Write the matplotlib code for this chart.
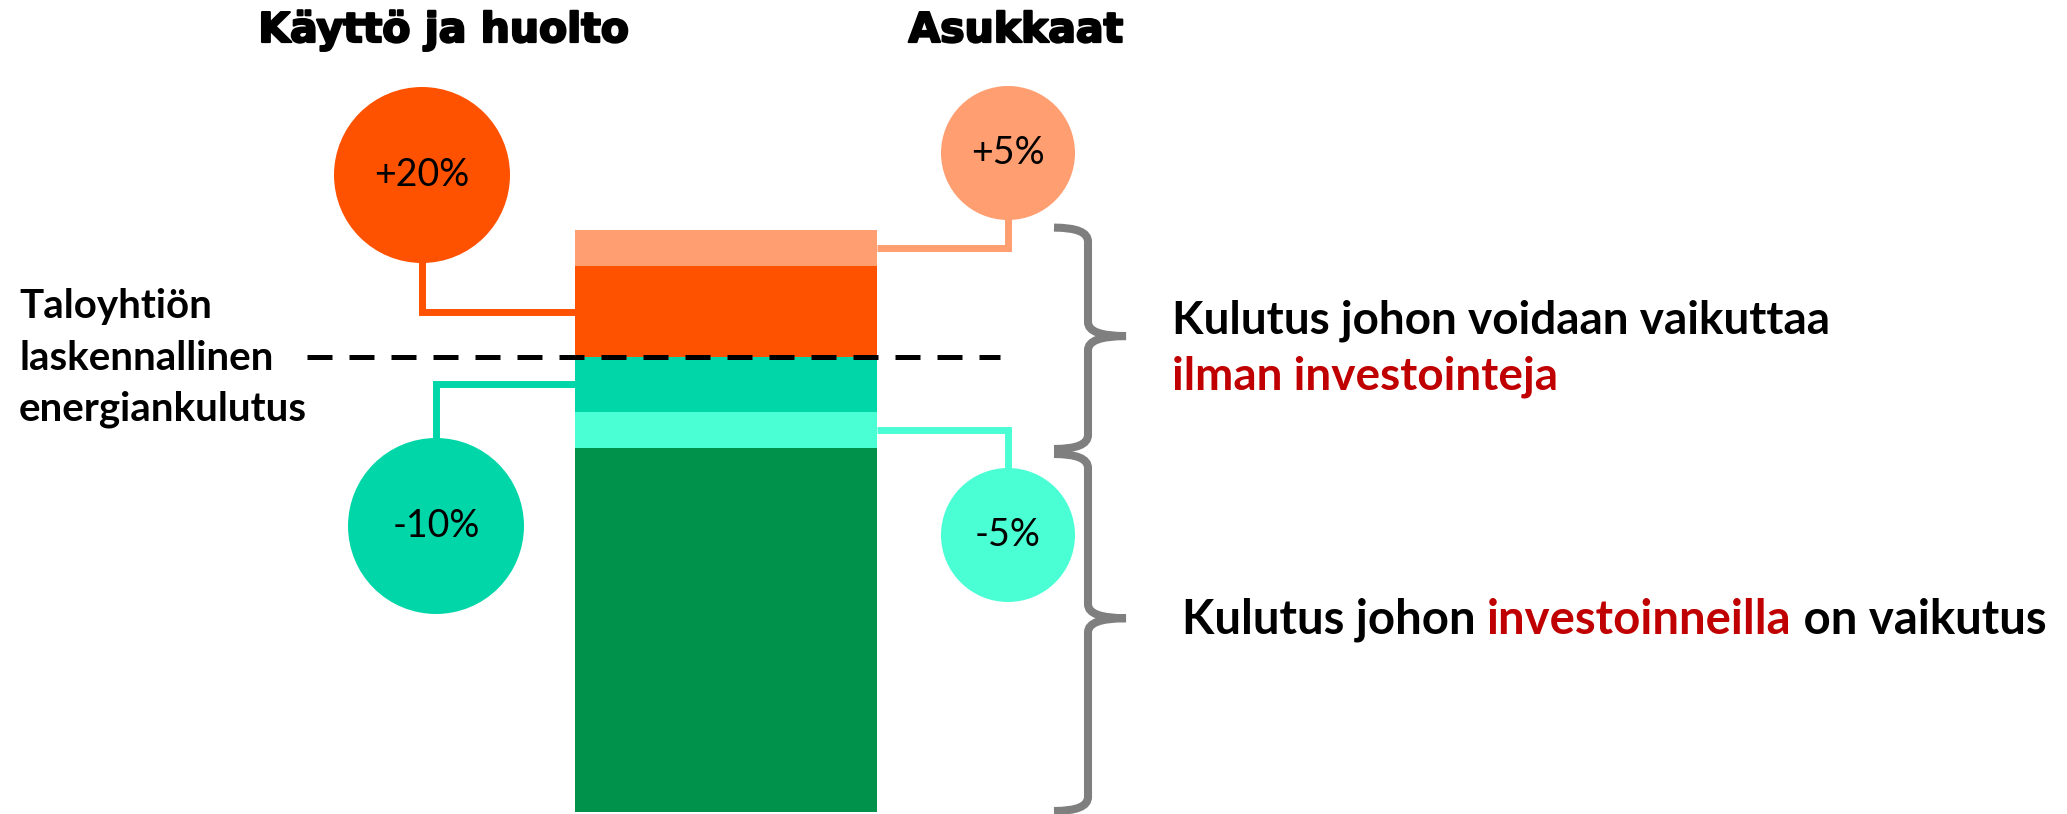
import matplotlib.pyplot as plt
import matplotlib.patheffects as pe
import numpy as np
from matplotlib.patches import Circle, PathPatch
from matplotlib.path import Path

W, H = 2067, 814

# bar segments, bottom to top (calculated consumption = 100)
seg_names = ["Muu kulutus", "Asukkaat -5%", "Käyttö ja huolto -10%",
             "Käyttö ja huolto +20%", "Asukkaat +5%"]
seg_values = [80, 8, 12, 20, 8]
seg_colors = ["#00924A", "#4BFFD4", "#00D6A8", "#FF5200", "#FF9E70"]
baseline = 100

# bubbles and the bar segment each one points to
bubble_labels = ["+20%", "+5%", "-10%", "-5%"]
bubble_colors = ["#FF5200", "#FF9E70", "#00D6A8", "#4BFFD4"]
bubble_segment = [3, 4, 2, 1]

titles = ["Käyttö ja huolto", "Asukkaat"]
left_label = ["Taloyhtiön", "laskennallinen", "energiankulutus"]
upper_text = ["Kulutus johon voidaan vaikuttaa", "ilman investointeja"]
lower_text = ["Kulutus johon ", "investoinneilla", " on vaikutus"]

RED = "#C00000"
GREY = "#7F7F7F"
BODY = "Lato"

# layout (pixels)
bar_x, bar_w = 726, 302
bubble_xy = [(422, 175), (1008, 153), (436, 526), (1008, 535)]
bubble_r = [88, 67, 88, 67]
bubble_side = ["left", "right", "left", "right"]
px_per_unit, bottom_px = 4.55, 2

fig = plt.figure(figsize=(W / 100, H / 100), dpi=100)
ax = fig.add_axes([0, 0, 1, 1])
ax.axis("off")
ax.set_xlim(0, W)
ax.set_ylim(-bottom_px / px_per_unit, (H - bottom_px) / px_per_unit)

lay = fig.add_axes([0, 0, 1, 1])
lay.axis("off")
lay.patch.set_alpha(0)
lay.set_xlim(0, W)
lay.set_ylim(H, 0)


def val_to_px(v):
    disp = ax.transData.transform((0, v))
    return lay.transData.inverted().transform(disp)[1]


# stacked bar
bottoms = np.concatenate([[0], np.cumsum(seg_values)[:-1]])
ax.bar([bar_x] * len(seg_values), seg_values, bottom=bottoms, width=bar_w,
       color=seg_colors, zorder=2)
ax.hlines(baseline, 307, 1000, colors="black", lw=3.6,
          linestyles=(0, (5, 3.4)), zorder=3)

# bubbles with connectors
mids = bottoms + np.array(seg_values) / 2
for lab, col, seg, (cx, cy), r, side in zip(bubble_labels, bubble_colors,
                                            bubble_segment, bubble_xy,
                                            bubble_r, bubble_side):
    y = val_to_px(mids[seg])
    xe = bar_x - bar_w / 2 if side == "left" else bar_x + bar_w / 2
    lay.plot([cx, cx, xe], [cy, y, y], color=col, lw=5,
             solid_joinstyle="miter", solid_capstyle="butt", zorder=2)
    lay.add_patch(Circle((cx, cy), r, color=col, lw=0, zorder=3))
    lay.text(cx, cy, lab, ha="center", va="center", fontsize=27,
             family=BODY, zorder=4)


# curly braces
def brace(top, bottom, tip_frac, x0=1054, xs=1088, xt=1126, c=14):
    mid = top + (bottom - top) * tip_frac
    verts = [(x0, top), (xs, top), (xs, top + c),
             (xs, mid - c), (xs, mid), (xt, mid),
             (xs, mid), (xs, mid + c),
             (xs, bottom - c), (xs, bottom), (x0, bottom)]
    codes = [Path.MOVETO, Path.CURVE3, Path.CURVE3,
             Path.LINETO, Path.CURVE3, Path.CURVE3,
             Path.CURVE3, Path.CURVE3,
             Path.LINETO, Path.CURVE3, Path.CURVE3]
    lay.add_patch(PathPatch(Path(verts, codes), fill=False, ec=GREY,
                            lw=5.8, capstyle="butt", joinstyle="miter"))


total = sum(seg_values)
brace(val_to_px(total) - 2, val_to_px(seg_values[0]) + 1, 0.49)
brace(val_to_px(seg_values[0]) + 6, val_to_px(0) - 1, 0.46)

# titles (heavy, like Arial Black)
heavy = [pe.withStroke(linewidth=1.6, foreground="black")]
for t, x in zip(titles, [444, 1016]):
    lay.text(x, 42, t, ha="center", va="baseline", fontsize=29.5,
             fontweight="bold", family="DejaVu Sans", path_effects=heavy)

# left label
for t, y in zip(left_label, [318, 370, 420]):
    lay.text(19, y, t, ha="left", va="baseline", fontsize=29,
             fontweight="bold", family=BODY)

# right texts
lay.text(1172, 333, upper_text[0], ha="left", va="baseline", fontsize=33,
         fontweight="bold", family=BODY)
lay.text(1172, 390, upper_text[1], ha="left", va="baseline", fontsize=33,
         fontweight="bold", family=BODY, color=RED)

prev = lay.text(1182, 633, lower_text[0], ha="left", va="baseline",
                fontsize=34, fontweight="bold", family=BODY)
for t, col in zip(lower_text[1:], [RED, "black"]):
    prev = lay.annotate(t, xy=(1, 0), xycoords=prev, ha="left", va="bottom",
                        fontsize=34, fontweight="bold", family=BODY,
                        color=col)

fig.savefig("out.png", dpi=100)
